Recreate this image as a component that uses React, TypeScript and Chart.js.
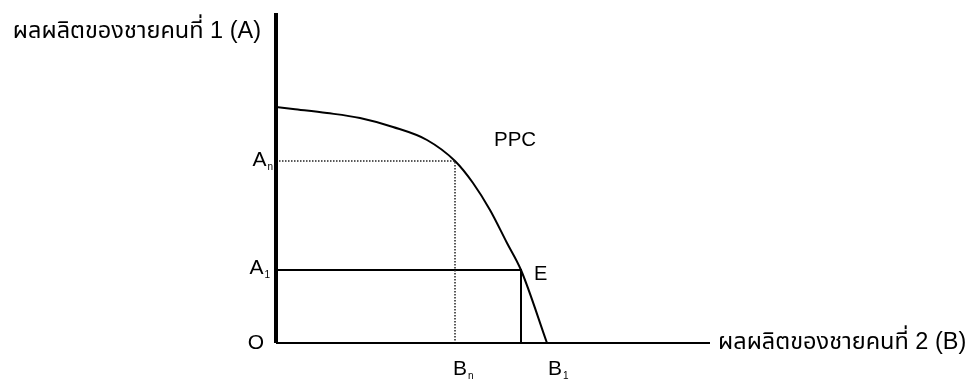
import React, { useEffect, useRef } from "react";
import { Chart, registerables } from "chart.js";

Chart.register(...registerables);

// Axis ranges (output units)
const xMax = 434;
const yMax = 330;

// Production possibility curve (B output, A output)
const ppcX = [0, 17, 51, 84, 117, 151, 179, 197, 214, 231, 245, 271];
const ppcY = [236, 234, 230, 225, 216, 203, 182, 160, 133, 100, 73, 0];

// Key points
const pointN = { x: 179, y: 182 }; // (B_n, A_n)
const pointE = { x: 245, y: 73 }; // (B_1, A_1) point E
const b1Intercept = 271;

const yTitle = "ผลผลิตของชายคนที่ 1 (A)";
const xTitle = "ผลผลิตของชายคนที่ 2 (B)";
const curveLabel = "PPC";

const FONT = '"Liberation Sans", Arial, Helvetica, "Noto Sans Thai", "Tahoma", "DejaVu Sans", sans-serif';

function drawSub(
  ctx: CanvasRenderingContext2D,
  main: string,
  sub: string,
  x: number,
  y: number,
  align: "left" | "right"
) {
  ctx.font = `21px ${FONT}`;
  const mw = ctx.measureText(main).width;
  ctx.font = `10px ${FONT}`;
  const sw = ctx.measureText(sub).width;
  const total = mw + 1 + sw;
  const left = align === "left" ? x : x - total;
  ctx.textAlign = "left";
  ctx.textBaseline = "alphabetic";
  ctx.font = `21px ${FONT}`;
  ctx.fillText(main, left, y);
  ctx.font = `10px ${FONT}`;
  ctx.fillText(sub, left + mw + 1, y + 4);
}

const labelsPlugin = {
  id: "ppcLabels",
  afterDatasetsDraw(chart: any) {
    const ctx: CanvasRenderingContext2D = chart.ctx;
    const xs = chart.scales.x;
    const ys = chart.scales.y;
    const px = (v: number) => xs.getPixelForValue(v);
    const py = (v: number) => ys.getPixelForValue(v);
    const ax = px(0);
    const ay = py(0);
    ctx.save();
    ctx.fillStyle = "#000";

    // Y axis title
    ctx.font = `23.5px ${FONT}`;
    ctx.textAlign = "right";
    ctx.textBaseline = "alphabetic";
    ctx.fillText(yTitle, ax - 15, py(yMax) + 25);

    // X axis title
    ctx.textAlign = "left";
    ctx.textBaseline = "middle";
    ctx.fillText(xTitle, px(xMax) + 8, ay);

    // PPC label
    ctx.font = `20.5px ${FONT}`;
    ctx.textBaseline = "alphabetic";
    ctx.fillText(curveLabel, px(pointN.x) + 39, py(pointN.y) - 15);

    // Origin
    ctx.font = `21px ${FONT}`;
    ctx.textAlign = "right";
    ctx.textBaseline = "middle";
    ctx.fillText("O", ax - 12, ay);

    // E
    ctx.font = `20px ${FONT}`;
    ctx.textAlign = "left";
    ctx.textBaseline = "alphabetic";
    ctx.fillText("E", px(pointE.x) + 13, py(pointE.y) + 10);

    // Y labels
    drawSub(ctx, "A", "n", ax - 3, py(pointN.y) + 5, "right");
    drawSub(ctx, "A", "1", ax - 6, py(pointE.y) + 4, "right");

    // X labels
    drawSub(ctx, "B", "n", px(pointN.x) - 2, ay + 32, "left");
    drawSub(ctx, "B", "1", px(b1Intercept) + 1, ay + 32, "left");

    ctx.restore();
  },
};

export default function App() {
  const ref = useRef<HTMLCanvasElement>(null);

  useEffect(() => {
    document.body.style.margin = "0";
    const canvas = ref.current;
    if (!canvas) return;
    const curve = ppcX.map((x, i) => ({ x, y: ppcY[i] }));
    const chart = new Chart(canvas, {
      type: "scatter",
      data: {
        datasets: [
          {
            label: "Y axis",
            data: [
              { x: 0, y: 0 },
              { x: 0, y: yMax },
            ],
            showLine: true,
            borderColor: "#000",
            borderWidth: 4,
            pointRadius: 0,
            clip: false as any,
          },
          {
            label: "X axis",
            data: [
              { x: 0, y: 0 },
              { x: xMax, y: 0 },
            ],
            showLine: true,
            borderColor: "#000",
            borderWidth: 2,
            pointRadius: 0,
            clip: false as any,
          },
          {
            label: "A_n dotted",
            data: [
              { x: 0, y: pointN.y },
              { x: pointN.x, y: pointN.y },
              { x: pointN.x, y: 0 },
            ],
            showLine: true,
            borderColor: "#222",
            borderWidth: 1.5,
            borderDash: [1.5, 1.5],
            pointRadius: 0,
            clip: false as any,
          },
          {
            label: "A_1 / E",
            data: [
              { x: 0, y: pointE.y },
              { x: pointE.x, y: pointE.y },
              { x: pointE.x, y: 0 },
            ],
            showLine: true,
            borderColor: "#000",
            borderWidth: 2,
            pointRadius: 0,
            clip: false as any,
          },
          {
            label: "PPC",
            data: curve,
            showLine: true,
            borderColor: "#000",
            borderWidth: 2,
            pointRadius: 0,
            cubicInterpolationMode: "monotone",
            clip: false as any,
          },
        ],
      },
      options: {
        responsive: false,
        animation: false,
        events: [],
        layout: {
          padding: { left: 276, right: 263, top: 13, bottom: 39 },
        },
        plugins: {
          legend: { display: false },
          tooltip: { enabled: false },
        },
        scales: {
          x: { type: "linear", min: 0, max: xMax, display: false },
          y: { type: "linear", min: 0, max: yMax, display: false },
        },
      },
      plugins: [labelsPlugin],
    });
    return () => chart.destroy();
  }, []);

  return (
    <div style={{ position: "fixed", left: 0, top: 0, width: 973, height: 382, background: "#fff" }}>
      <canvas ref={ref} width={973} height={382} style={{ width: 973, height: 382 }} />
    </div>
  );
}
